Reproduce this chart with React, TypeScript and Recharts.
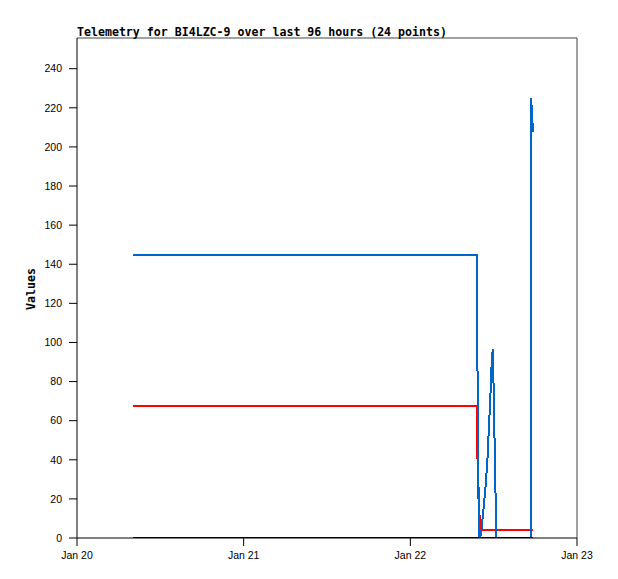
import React from 'react';
import { LineChart, Line, XAxis, YAxis, ReferenceLine } from 'recharts';

// sample times (UTC)
const times: string[] = [
  '2024-01-20T08:04', '2024-01-22T09:34', '2024-01-22T09:36', '2024-01-22T09:42',
  '2024-01-22T09:49', '2024-01-22T09:56', '2024-01-22T10:07', '2024-01-22T10:17',
  '2024-01-22T10:34', '2024-01-22T10:51', '2024-01-22T11:08', '2024-01-22T11:17',
  '2024-01-22T11:26', '2024-01-22T11:35', '2024-01-22T11:43', '2024-01-22T11:52',
  '2024-01-22T11:57', '2024-01-22T12:06', '2024-01-22T12:23', '2024-01-22T14:30',
  '2024-01-22T17:20', '2024-01-22T17:22', '2024-01-22T17:29', '2024-01-22T17:40',
];
const blueSeries: number[] = [
  144.5, 144.5, 120.7, 72.5, 26, 0, 1, 5.8, 16, 27, 42, 54, 65, 77, 90, 96.5, 85, 55, 0, 0, 0,
  225.2, 220, 207.5,
];
const redSeries: number[] = [
  67.3, 67.3, 56.8, 34.7, 20, 13, 4, 4, 4, 4, 4, 4, 4, 4, 4, 4, 4, 4, 4, 4, 4, 4, 4, 4,
];
const blackSeries: number[] = [
  0, 0, 0, 0, 0, 0, 0, 0, 0, 0, 0, 0, 0, 0, 0, 0, 0, 0, 0, 0, 0, 0, 0, 0,
];
const yTicks: number[] = [0, 20, 40, 60, 80, 100, 120, 140, 160, 180, 200, 220, 240];
const xTickLabels: string[] = ['Jan 20', 'Jan 21', 'Jan 22', 'Jan 23'];
const xTickDates: string[] = ['2024-01-20T00:00', '2024-01-21T00:00', '2024-01-22T00:00', '2024-01-23T00:00'];

const toMs = (s: string) => Date.parse(s + ':00Z');
const xTicks = xTickDates.map(toMs);
const data = times.map((t, i) => ({
  t: toMs(t),
  blue: blueSeries[i],
  red: redSeries[i],
  black: blackSeries[i],
}));

const fmtX = (v: number) => {
  const idx = xTicks.indexOf(v);
  return idx >= 0 ? xTickLabels[idx] : '';
};

const tickStyle = { fontFamily: 'Liberation Sans', fontSize: 10.5, fill: '#000' };
const monoBold: React.CSSProperties = {
  fontFamily: 'DejaVu Sans Mono',
  fontWeight: 'bold',
  fontSize: 11.6,
  color: '#000',
  whiteSpace: 'nowrap',
  lineHeight: 1,
};

export default function App() {
  return (
    <div style={{ position: 'relative', width: 610, height: 571 }}>
      <LineChart
        width={610}
        height={571}
        data={data}
        margin={{ top: 30, right: 41, left: 0, bottom: 0 }}
      >
        <XAxis
          dataKey="t"
          type="number"
          scale="linear"
          domain={[xTicks[0], xTicks[3]]}
          ticks={xTicks}
          tickFormatter={fmtX}
          height={41}
          tickSize={8}
          tickMargin={6}
          stroke="#000"
          tick={tickStyle}
          axisLine={{ stroke: '#000' }}
          tickLine={{ stroke: '#000' }}
        />
        <YAxis
          type="number"
          domain={[0, 255.7]}
          ticks={yTicks}
          width={69}
          tickSize={8}
          tickMargin={7}
          tick={tickStyle}
          axisLine={{ stroke: '#000' }}
          tickLine={{ stroke: '#000' }}
          allowDataOverflow
        />
        <ReferenceLine y={255.7} stroke="#444" strokeWidth={1} />
        <ReferenceLine x={xTicks[3]} stroke="#444" strokeWidth={1} />
        <Line type="linear" dataKey="red" stroke="#ff0000" strokeWidth={2} dot={false} isAnimationActive={false} shapeRendering="crispEdges" />
        <Line type="linear" dataKey="blue" stroke="#0066cc" strokeWidth={2} dot={false} isAnimationActive={false} shapeRendering="crispEdges" />
        <Line type="linear" dataKey="black" stroke="#000" strokeWidth={2} dot={false} isAnimationActive={false} shapeRendering="crispEdges" />
      </LineChart>
      <div style={{ ...monoBold, position: 'absolute', left: 69, top: 18.5 }}>
        Telemetry for BI4LZC-9 over last 96 hours (24 points)
      </div>
      <div
        style={{
          ...monoBold,
          position: 'absolute',
          left: 24,
          top: 281,
          transform: 'translate(-50%, -50%) rotate(-90deg)',
        }}
      >
        Values
      </div>
    </div>
  );
}
